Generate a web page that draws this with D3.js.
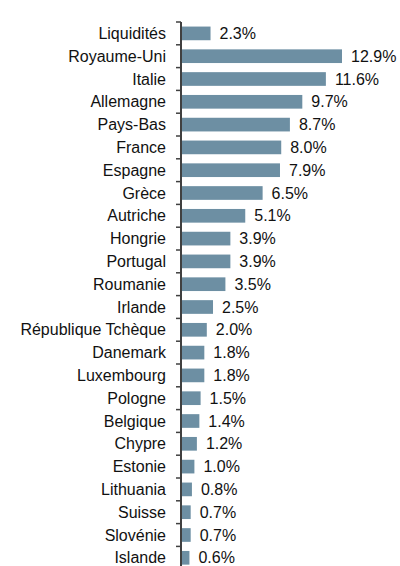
<!DOCTYPE html>
<html>
  <head>
    <meta charset="utf-8">
    <style>
      body { margin: 0; background: #fff; }
      text { font-family: "Liberation Sans", Arial, sans-serif; fill: #111; }
    </style>
    <script src="https://d3js.org/d3.v7.min.js"></script>
  </head>
  <body>
    <div id="chart"></div>
    <script>
    // pays et poids (%)
    var countries = ["Liquidités","Royaume-Uni","Italie","Allemagne","Pays-Bas","France","Espagne","Grèce","Autriche","Hongrie","Portugal","Roumanie","Irlande","République Tchèque","Danemark","Luxembourg","Pologne","Belgique","Chypre","Estonie","Lithuania","Suisse","Slovénie","Islande"]
    var weights = [2.3,12.9,11.6,9.7,8.7,8.0,7.9,6.5,5.1,3.9,3.9,3.5,2.5,2.0,1.8,1.8,1.5,1.4,1.2,1.0,0.8,0.7,0.7,0.6]

    var data = countries.map(function(c, i) { return {name: c, value: weights[i]} })

    var W = 400, H = 566
    var margin = {top: 22, left: 181}
    var svg = d3.select("#chart").append("svg")
      .attr("width", W).attr("height", H)

    var y = d3.scaleBand()
      .domain(countries)
      .range([margin.top, margin.top + 22.8 * countries.length])
      .paddingInner(0.4).paddingOuter(0.2)

    var x = d3.scaleLinear()
      .domain([0, 12.9])
      .range([margin.left + 1, margin.left + 161])

    // barres
    svg.selectAll("rect.bar")
      .data(data).enter().append("rect")
      .attr("class", "bar")
      .attr("x", x(0))
      .attr("y", function(d) { return y(d.name) })
      .attr("width", function(d) { return x(d.value) - x(0) })
      .attr("height", y.bandwidth())
      .attr("fill", "#6d8fa3")

    // axe vertical avec ticks entre les catégories
    var axis = svg.append("g")
    axis.append("line")
      .attr("x1", margin.left).attr("x2", margin.left)
      .attr("y1", y.range()[0]).attr("y2", y.range()[1])
      .attr("stroke", "#404040").attr("stroke-width", 2)
    var step = y.step()
    d3.range(countries.length + 1).forEach(function(i) {
      var yy = y.range()[0] + i * step
      axis.append("line")
        .attr("x1", margin.left - 5).attr("x2", margin.left)
        .attr("y1", yy).attr("y2", yy)
        .attr("stroke", "#404040").attr("stroke-width", 1.5)
    })

    // libellés
    svg.selectAll("text.name")
      .data(data).enter().append("text")
      .attr("class", "name")
      .attr("x", margin.left - 15)
      .attr("y", function(d) { return y(d.name) + y.bandwidth() / 2 })
      .attr("dy", "0.35em")
      .attr("text-anchor", "end")
      .style("font-size", "16px")
      .text(function(d) { return d.name })

    svg.selectAll("text.val")
      .data(data).enter().append("text")
      .attr("class", "val")
      .attr("x", function(d) { return x(d.value) + 9 })
      .attr("y", function(d) { return y(d.name) + y.bandwidth() / 2 })
      .attr("dy", "0.35em")
      .style("font-size", "16px")
      .text(function(d) { return d.value.toFixed(1) + "%" })
    </script>
  </body>
</html>
